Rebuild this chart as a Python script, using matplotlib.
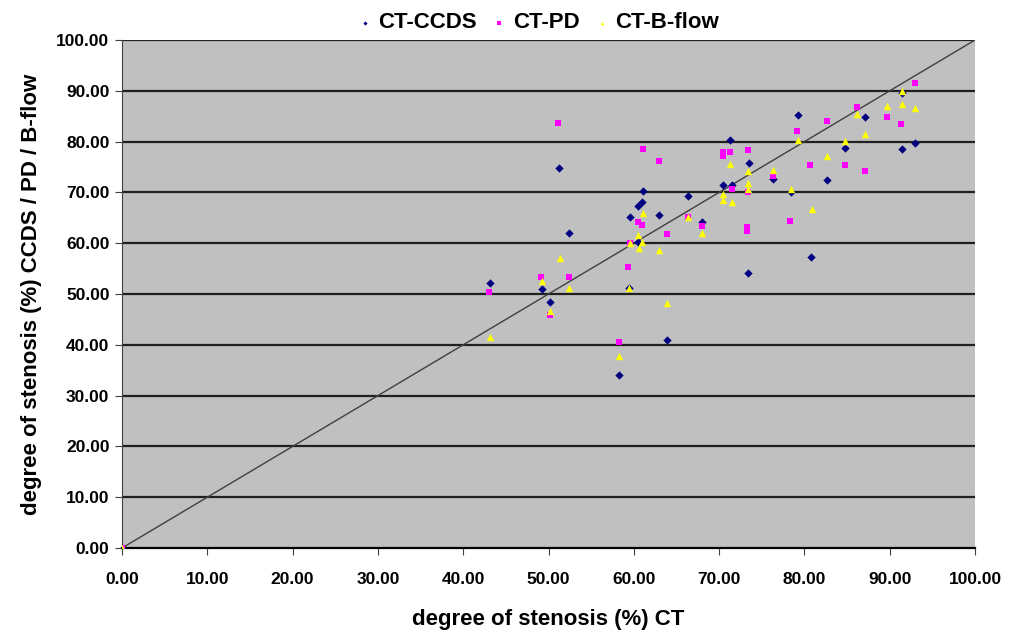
import matplotlib
matplotlib.use("Agg")
import matplotlib.pyplot as plt
import numpy as np

# CT-CCDS (navy diamonds)
ccds_x = [0, 43.1, 49.2, 50.2, 51.2, 52.4, 58.2, 59.4, 59.5, 60.5, 60.5, 61.0, 61.1, 63.0, 63.9,
          66.4, 68.0, 70.4, 71.3, 71.5, 73.4, 73.5, 76.3, 78.4, 79.2, 80.8, 82.6, 84.8, 87.1,
          91.4, 91.4, 93.0]
ccds_y = [0, 52.2, 51.0, 48.5, 74.7, 62.0, 34.0, 51.1, 65.1, 67.4, 60.2, 68.1, 70.3, 65.5, 40.9,
          69.2, 64.2, 71.4, 80.3, 71.5, 54.1, 75.7, 72.6, 70.1, 85.3, 57.3, 72.4, 78.7, 84.9,
          78.6, 89.6, 79.8]

# CT-PD (magenta squares)
pd_x = [0, 43.0, 49.1, 50.2, 51.1, 52.4, 58.2, 59.3, 59.5, 60.5, 61.0, 61.1, 62.9, 63.9, 66.4,
        68.0, 70.4, 70.4, 71.3, 71.5, 73.4, 73.4, 73.3, 73.3, 76.3, 78.3, 79.1, 80.7, 82.6,
        84.8, 86.1, 87.1, 89.7, 91.3, 92.9]
pd_y = [0, 50.3, 53.3, 45.8, 83.6, 53.3, 40.5, 55.3, 60.1, 64.2, 63.5, 78.5, 76.2, 61.9, 65.1,
        63.4, 77.9, 77.2, 78.0, 70.6, 78.3, 70.0, 63.1, 62.3, 73.2, 64.4, 82.1, 75.3, 84.0,
        75.3, 86.9, 74.3, 84.9, 83.5, 91.5]

# CT-B-flow (yellow triangles)
bf_x = [0, 43.1, 49.2, 50.2, 51.3, 52.4, 58.2, 59.4, 59.5, 60.5, 60.6, 61.0, 61.1, 63.0, 63.9,
        66.4, 68.0, 70.4, 70.4, 71.3, 71.5, 73.4, 73.4, 73.4, 76.3, 78.4, 79.2, 80.9, 82.6,
        84.8, 86.2, 87.1, 89.7, 91.4, 91.4, 93.0]
bf_y = [0, 41.6, 52.6, 46.6, 57.1, 51.1, 37.8, 51.1, 60.0, 61.7, 59.1, 60.3, 65.9, 58.7, 48.3,
        65.1, 62.0, 69.7, 68.4, 75.5, 68.1, 74.2, 71.8, 70.7, 74.5, 70.6, 80.3, 66.7, 77.2,
        80.1, 85.4, 81.4, 87.0, 90.0, 87.4, 86.6]

ticks = np.arange(0, 101, 10)
tick_labels = [f"{t:.2f}" for t in ticks]

font = ['Liberation Sans Narrow', 'Liberation Sans', 'DejaVu Sans']
plt.rcParams['font.family'] = font
plt.rcParams['font.weight'] = 'bold'

fig = plt.figure(figsize=(10.2, 6.34), dpi=100)
ax = fig.add_axes([0.1196, 0.1356, 0.956 - 0.1196, 0.937 - 0.1356])
ax.set_facecolor('#C0C0C0')
ax.set_xlim(0, 100)
ax.set_ylim(0, 100)

for t in ticks[1:]:
    ax.axhline(t, color='#202020', lw=1.6, zorder=1)
ax.plot([0, 100], [0, 100], color='#404040', lw=1.0, zorder=2)

ax.scatter(ccds_x, ccds_y, marker='D', s=18, color='#000080', zorder=3, label='CT-CCDS', linewidths=0)
ax.scatter(pd_x, pd_y, marker='s', s=24, color='#FF00FF', zorder=4, label='CT-PD', linewidths=0)
ax.scatter(bf_x, bf_y, marker='^', s=28, color='#FFFF00', zorder=5, label='CT-B-flow', linewidths=0)

for s in ['top', 'right']:
    ax.spines[s].set_visible(False)
ax.spines['left'].set_color('#404040')
ax.spines['bottom'].set_color('black')
ax.spines['bottom'].set_linewidth(1.6)

ax.set_xticks(ticks)
ax.set_yticks(ticks)
ax.set_xticklabels(tick_labels, fontsize=12.5, fontweight='bold')
ax.set_yticklabels(tick_labels, fontsize=12.5, fontweight='bold')
ax.tick_params(axis='x', direction='out', length=5, pad=12, color='#404040')
ax.tick_params(axis='y', direction='out', length=5, pad=4, color='#404040')

ax.set_xlabel('degree of stenosis (%) CT', fontsize=16, fontweight='bold', labelpad=16)
ax.set_ylabel('degree of stenosis (%) CCDS / PD / B-flow', fontsize=16, fontweight='bold', labelpad=10)

leg = fig.legend(loc='upper center', bbox_to_anchor=(0.527, 1.012), ncol=3, frameon=False,
                 prop={'size': 16, 'weight': 'bold'}, markerscale=0.5, handletextpad=0.2,
                 columnspacing=0.6, handlelength=0.8)

fig.savefig('out.png', dpi=100)
